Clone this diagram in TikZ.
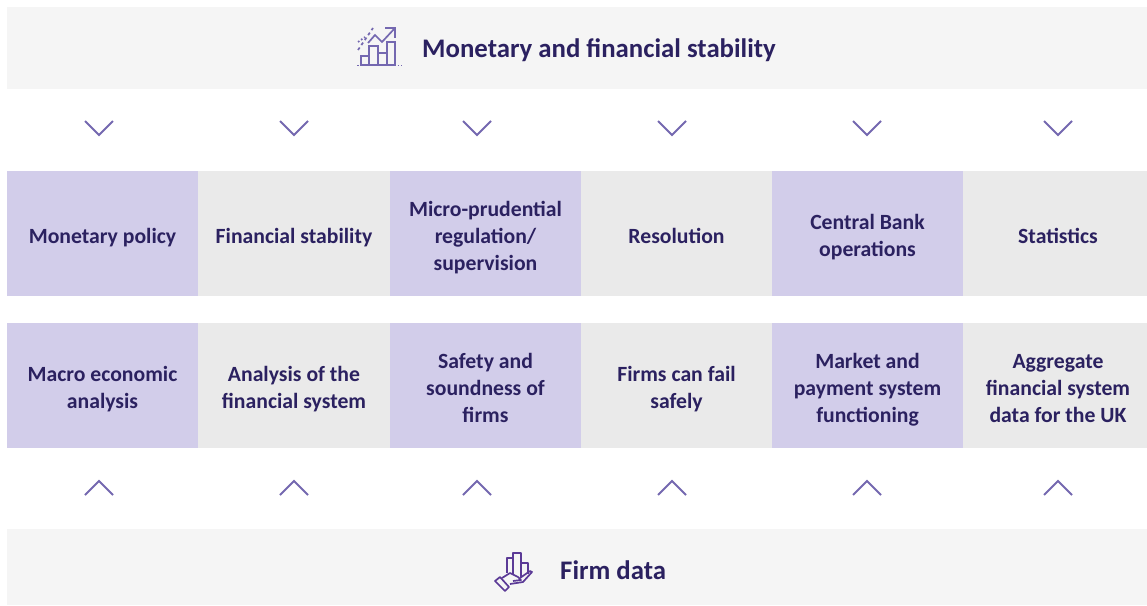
\documentclass[tikz,border=0pt]{standalone}
\usepackage{fontspec}
\setmainfont{Carlito}
\definecolor{lilac}{HTML}{D2CDEA}
\definecolor{pale}{HTML}{EAEAEA}
\definecolor{band}{HTML}{F5F5F5}
\definecolor{ink}{HTML}{2B2160}
\definecolor{chev}{HTML}{7468B0}
\definecolor{handc}{HTML}{5B3A96}
\tikzset{
	celltext/.style={inner sep=0pt,align=center,text=ink,text height=28pt,text depth=8pt,
		font=\fontsize{21.7}{27}\selectfont\bfseries},
	twolines/.style={text height=55pt},
	threelines/.style={text height=82pt},
	cell/.style={celltext,minimum height=125pt},
	purplecell/.style={cell,fill=lilac},
	greycell/.style={cell,fill=pale},
	bandbox/.style={fill=band,inner sep=0pt,minimum width=1140pt},
	bandlabel/.style={text=ink,inner sep=0pt,font=\fontsize{26.8}{32}\selectfont\bfseries},
	chevron/.style={draw=chev,line width=1.9pt},
}
\begin{document}
\begin{tikzpicture}
			[x=1pt,y=-1pt]
			\useasboundingbox (0,0) rectangle (1147,605);
			
			\node[bandbox,minimum height=82pt] (top) at (577,48){};
			\node[bandbox,minimum height=76pt] (bottom) at (577,567){};
			\node[bandlabel,anchor=west] (toplabel) at (422,50){Monetary and financial stability};
			\node[bandlabel,anchor=west] (bottomlabel) at (560,570){Firm data};
			
			% upper row
			\node[purplecell,minimum width=191pt] (mon) at (102.5,233){Monetary policy};
			\node[greycell,minimum width=192pt] (fin) at (294,233){Financial stability};
			\node[purplecell,threelines,minimum width=191pt] (mic) at (485.5,233){Micro-prudential\\regulation/\\supervision};
			\node[greycell,minimum width=191pt] (res) at (676.5,233){Resolution};
			\node[purplecell,twolines,minimum width=191pt] (cen) at (867.5,233){Central Bank\\operations};
			\node[greycell,minimum width=184pt] (sta) at (1055,233){};
			\node[celltext] (statext) at (1058,233){Statistics};
			
			% lower row
			\node[purplecell,twolines,minimum width=191pt] (mac) at (102.5,385){Macro economic\\analysis};
			\node[greycell,twolines,minimum width=192pt] (ana) at (294,385){Analysis of the\\financial system};
			\node[purplecell,threelines,minimum width=191pt] (saf) at (485.5,385){Safety and\\soundness of\\firms};
			\node[greycell,twolines,minimum width=191pt] (fai) at (676.5,385){Firms can fail\\safely};
			\node[purplecell,threelines,minimum width=191pt] (mar) at (867.5,385){Market and\\payment system\\functioning};
			\node[greycell,minimum width=184pt] (agg) at (1055,385){};
			\node[celltext,threelines] (aggtext) at (1058,385){Aggregate\\financial system\\data for the UK};
			
			% chevrons
			\foreach \cx in {99,294,477,672,867,1058}{
				\draw[chevron] (\cx-14,121) -- (\cx,135) -- (\cx+14,121);
				\draw[chevron] (\cx-14,495) -- (\cx,481) -- (\cx+14,495);
			}
			
			% chart icon
			\begin{scope}[chev,line width=1.7pt]
				\draw[dotted] (357,65.5) -- (402,65.5);
				\draw (361,65) rectangle (369,56);
				\draw (369,65) rectangle (378,46);
				\draw (378,65) rectangle (387,53);
				\draw (387,65) rectangle (395,42);
				\draw (368,43) -- (375,35) -- (382,42) -- (395,28);
				\draw (385,28) -- (395,28) -- (395,38);
				\draw[dashed] (358,50) -- (373,28);
				\draw[dotted] (358,42) -- (365,37);
			\end{scope}
			
			% hand icon
			\begin{scope}[handc,line width=1.7pt,line join=round]
				\draw (507,573) -- (507,558) -- (513,558);
				\draw (513,575) -- (513,553) -- (521,553) -- (521,577);
				\draw (521,563) -- (528,563) -- (528,574);
				\draw (502,578) -- (510,573) -- (518,577) -- (521,580) -- (513,581);
				\draw (520,578) -- (530,571) -- (532,572) -- (523,582) -- (510,584);
				\draw (495,581) -- (500,577) -- (509,587) -- (505,591) -- cycle;
			\end{scope}
			
		\end{tikzpicture}
\end{document}
